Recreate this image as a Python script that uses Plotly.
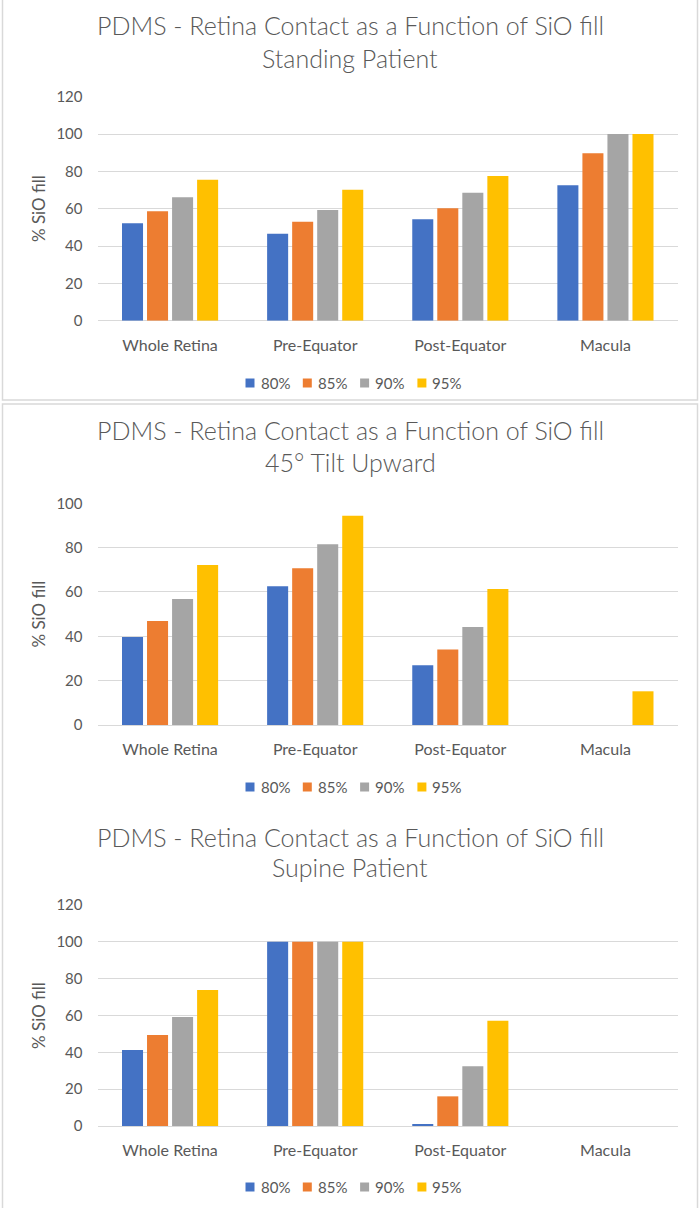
import plotly.graph_objects as go

categories = ["Whole Retina", "Pre-Equator", "Post-Equator", "Macula"]
series_names = ["80%", "85%", "90%", "95%"]

standing_80 = [52.2, 46.6, 54.3, 72.5]
standing_85 = [58.6, 53.0, 60.2, 89.7]
standing_90 = [66.1, 59.3, 68.6, 100.0]
standing_95 = [75.5, 70.2, 77.5, 100.0]

tilt_80 = [39.7, 62.6, 26.9, 0.0]
tilt_85 = [46.9, 70.7, 34.1, 0.0]
tilt_90 = [56.8, 81.5, 44.2, 0.0]
tilt_95 = [72.2, 94.4, 61.3, 15.2]

supine_80 = [41.2, 100.0, 0.9, 0.0]
supine_85 = [49.4, 100.0, 16.1, 0.0]
supine_90 = [59.2, 100.0, 32.4, 0.0]
supine_95 = [73.8, 100.0, 57.1, 0.0]

main_title = "PDMS - Retina Contact as a Function of SiO fill"
subtitles = ["Standing Patient", "45° Tilt Upward", "Supine Patient"]
y_title = "% SiO fill"
y_max = [120, 100, 120]

panels = [
    [standing_80, standing_85, standing_90, standing_95],
    [tilt_80, tilt_85, tilt_90, tilt_95],
    [supine_80, supine_85, supine_90, supine_95],
]

colors = ["#4472C4", "#ED7D31", "#A5A5A5", "#FFC000"]
W, H = 700, 1208
FONT = "Lato"
TXT = "#595959"
GRID = "#D9D9D9"


def px(x):
    return x / W


def py(y):
    return 1 - y / H


# layout geometry in pixels (top, bottom of plot area; title lines; legend row)
geo = [
    dict(top=96.7, bottom=320.7, t1=25, t2=58, leg=383),
    dict(top=503.3, bottom=725.0, t1=430, t2=462, leg=787),
    dict(top=905.0, bottom=1126.0, t1=837, t2=867, leg=1187),
]
x_left, x_right = 97.5, 678.0

fig = go.Figure()
layout = dict(
    width=W, height=H, margin=dict(l=0, r=0, t=0, b=0, pad=0, autoexpand=False),
    paper_bgcolor="white", plot_bgcolor="white",
    barmode="group", bargap=0.31, bargroupgap=0.16,
    showlegend=False, font=dict(family=FONT, color=TXT),
)
annotations = []
shapes = []

for i, (vals, g) in enumerate(zip(panels, geo)):
    n = "" if i == 0 else str(i + 1)
    for name, v, c in zip(series_names, vals, colors):
        fig.add_trace(go.Bar(x=categories, y=v, name=name, marker_color=c,
                             marker_line_width=0, xaxis="x" + n, yaxis="y" + n))
    layout["xaxis" + n] = dict(
        domain=[px(x_left), px(x_right)], anchor="y" + n, automargin=False,
        showgrid=False, showline=False, ticks="", zeroline=False,
        tickfont=dict(family=FONT, size=16, color=TXT), ticklabelstandoff=13,
    )
    layout["yaxis" + n] = dict(
        domain=[py(g["bottom"]), py(g["top"])], anchor="x" + n, automargin=False,
        range=[0, y_max[i]], dtick=20, showgrid=True, gridcolor=GRID, gridwidth=1,
        zeroline=True, zerolinecolor=GRID, zerolinewidth=1, showline=False, ticks="",
        tickfont=dict(family=FONT, size=15, color=TXT), ticklabelstandoff=14,
        title=dict(text=y_title, font=dict(family=FONT, size=17, color=TXT), standoff=6),
    )
    annotations.append(dict(text=main_title, x=0.5, y=py(g["t1"]), xref="paper", yref="paper",
                            showarrow=False, xanchor="center", yanchor="middle",
                            font=dict(family=FONT, size=25, color=TXT, weight=300)))
    annotations.append(dict(text=subtitles[i], x=0.5, y=py(g["t2"]), xref="paper", yref="paper",
                            showarrow=False, xanchor="center", yanchor="middle",
                            font=dict(family=FONT, size=25, color=TXT, weight=300)))
    # legend
    for k, (name, c) in enumerate(zip(series_names, colors)):
        sx = 245.5 + 57.3 * k
        shapes.append(dict(type="rect", xref="paper", yref="paper",
                           x0=px(sx), x1=px(sx + 9), y0=py(g["leg"] + 4.5), y1=py(g["leg"] - 4.5),
                           fillcolor=c, line=dict(width=0)))
        annotations.append(dict(text=name, x=px(sx + 13), y=py(g["leg"]), xref="paper", yref="paper",
                                showarrow=False, xanchor="left", yanchor="middle",
                                font=dict(family=FONT, size=15, color=TXT)))

# chart frames
shapes.append(dict(type="rect", xref="paper", yref="paper", x0=px(2.5), x1=px(697.5),
                   y0=py(400), y1=py(-3), line=dict(color=GRID, width=1.5), fillcolor="rgba(0,0,0,0)"))
shapes.append(dict(type="rect", xref="paper", yref="paper", x0=px(2.5), x1=px(697.5),
                   y0=py(1215), y1=py(404), line=dict(color=GRID, width=1.5), fillcolor="rgba(0,0,0,0)"))

layout["annotations"] = annotations
layout["shapes"] = shapes
fig.update_layout(**layout)
fig.write_html("out.html", config={"displayModeBar": False},
               post_script="document.body.style.margin='0';")
